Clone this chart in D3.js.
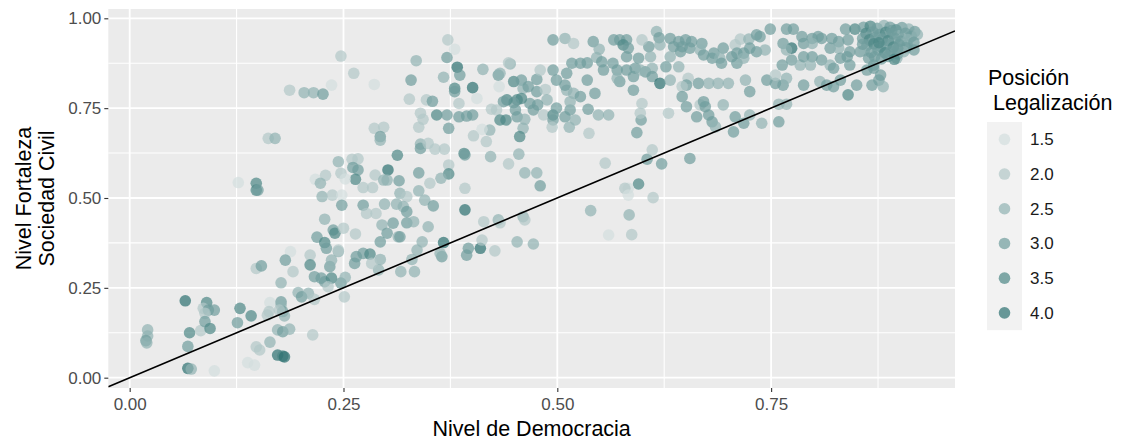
<!DOCTYPE html>
<html>
<head>
<meta charset="utf-8">
<script src="https://cdn.jsdelivr.net/npm/d3@7"></script>
<style>
  body { margin: 0; background: #ffffff; }
  svg { display: block; font-family: "Liberation Sans", Arial, Helvetica, sans-serif; }
</style>
</head>
<body>
<svg id="chart" width="1121" height="441"></svg>
<script>
// Axis ticks and legend breaks
const xTicks = [0, 0.25, 0.5, 0.75];
const yTicks = [0, 0.25, 0.5, 0.75, 1];
const legendBreaks = [1.5, 2, 2.5, 3, 3.5, 4];

// Reference line y = intercept + slope * x
const intercepto = 0;
const pendiente = 1;

// Country-year observations: [democracia, sociedad civil, posición legalización]
const observaciones = [
  [0.021,0.133,2.5],[0.021,0.116,2.5],[0.019,0.103,3],[0.020,0.097,2.5],
  [0.065,0.214,4],[0.090,0.209,3.5],[0.086,0.193,2],[0.092,0.188,3],[0.099,0.188,3],[0.088,0.179,2],
  [0.070,0.125,3.5],[0.083,0.131,2],[0.088,0.156,3],[0.094,0.137,3.5],[0.068,0.087,3],
  [0.068,0.026,4],[0.072,0.024,2.5],[0.099,0.019,1.5],
  [0.129,0.193,3.5],[0.142,0.172,3.5],[0.126,0.153,3],
  [0.164,0.209,1.5],[0.163,0.184,2],[0.161,0.174,2],
  [0.177,0.211,3],[0.177,0.202,2.5],[0.179,0.184,3],[0.181,0.172,2.5],[0.175,0.188,2],
  [0.173,0.133,2.5],[0.179,0.128,3],[0.187,0.135,2.5],[0.214,0.119,2],
  [0.148,0.086,2],[0.152,0.077,2],[0.164,0.099,2.5],[0.138,0.042,1.5],[0.146,0.035,1.5],
  [0.173,0.063,4],[0.179,0.060,3.5],[0.181,0.058,4],
  [0.188,0.351,1.5],[0.191,0.295,2],[0.148,0.304,2],[0.154,0.311,3],[0.182,0.327,3],[0.177,0.264,2.5],
  [0.197,0.237,2.5],[0.201,0.225,3],[0.209,0.235,2.5],[0.216,0.218,2],
  [0.211,0.341,2],[0.211,0.314,3.5],[0.216,0.281,3],[0.224,0.277,3],[0.228,0.267,3],[0.236,0.277,3.5],
  [0.232,0.253,2],[0.247,0.263,3],[0.251,0.225,2],[0.263,0.318,3],[0.265,0.337,3],[0.234,0.309,3],[0.244,0.351,2.5],

  [0.247,0.895,2],[0.262,0.847,2],[0.286,0.816,1.5],[0.236,0.814,1.5],
  [0.187,0.800,2],[0.204,0.793,2.5],[0.215,0.793,2.5],[0.226,0.789,3],
  [0.162,0.666,2],[0.170,0.666,2.5],
  [0.286,0.694,2],[0.297,0.697,2],[0.293,0.671,3],[0.293,0.661,2.5],[0.313,0.619,3.5],
  [0.244,0.601,2.5],[0.260,0.608,2],[0.267,0.609,2],[0.261,0.585,3],[0.267,0.578,3],[0.264,0.552,3.5],
  [0.247,0.569,2],[0.229,0.563,2],[0.217,0.552,1.5],[0.223,0.541,2.5],[0.252,0.553,1.5],
  [0.302,0.578,4],[0.287,0.564,2],[0.297,0.550,2.5],[0.301,0.550,2.5],[0.315,0.548,3],
  [0.273,0.529,2],[0.284,0.529,2],
  [0.127,0.543,1.5],[0.148,0.541,3.5],[0.148,0.522,3.5],[0.150,0.522,3],
  [0.225,0.504,2.5],[0.237,0.508,2],[0.248,0.508,1.5],[0.248,0.480,3],
  [0.273,0.480,3],[0.277,0.457,2],[0.288,0.457,2],[0.298,0.483,2.5],[0.312,0.483,2.5],
  [0.228,0.441,2.5],[0.238,0.411,3],[0.240,0.402,3.5],[0.250,0.416,2],[0.264,0.400,2],[0.219,0.391,3],
  [0.295,0.425,2.5],[0.301,0.402,3],[0.308,0.430,3],[0.314,0.392,2.5],
  [0.228,0.376,3.5],[0.230,0.360,3],[0.244,0.355,2],[0.293,0.378,3],
  [0.273,0.346,3],[0.281,0.344,3.5],[0.293,0.329,2.5],

  [0.365,0.337,3],[0.330,0.329,2.5],[0.317,0.295,2.5],[0.333,0.295,2.5],[0.291,0.300,2.5],[0.283,0.318,2],
  [0.252,0.279,2.5],[0.236,0.327,2.5],

  [0.372,0.940,2],[0.380,0.914,1.5],[0.335,0.882,2.5],[0.371,0.891,3],[0.329,0.828,3],[0.367,0.836,2.5],
  [0.383,0.864,4],[0.386,0.842,3],[0.380,0.805,3.5],[0.380,0.796,3],[0.401,0.807,4],[0.413,0.858,2.5],
  [0.406,0.777,1.5],[0.327,0.775,2],[0.347,0.773,2],[0.354,0.769,3],[0.385,0.763,2],
  [0.340,0.736,2],[0.343,0.719,2],[0.359,0.731,3.5],[0.371,0.731,3],[0.385,0.726,3],[0.394,0.728,3],[0.401,0.731,3],
  [0.373,0.694,3],[0.338,0.697,2],[0.402,0.673,2],[0.417,0.657,2],[0.421,0.689,2.5],[0.412,0.691,1.5],
  [0.340,0.650,2.5],[0.340,0.638,3],[0.349,0.652,2],[0.357,0.636,2],[0.368,0.636,2],
  [0.391,0.624,3.5],[0.392,0.620,3],[0.422,0.615,2.5],[0.455,0.622,2.5],[0.443,0.595,2],
  [0.462,0.570,2.5],[0.476,0.570,2.5],[0.480,0.534,3],
  [0.373,0.592,2],[0.373,0.567,3.5],[0.364,0.555,2.5],[0.351,0.541,2],[0.338,0.570,3],
  [0.316,0.513,2.5],[0.338,0.520,2.5],[0.345,0.494,2.5],[0.355,0.478,3],[0.324,0.504,2],[0.320,0.476,2.5],
  [0.392,0.527,2],[0.392,0.467,4],
  [0.414,0.434,2],[0.431,0.439,2.5],[0.433,0.431,2],[0.460,0.448,2.5],[0.462,0.439,2],
  [0.324,0.462,3],[0.324,0.431,3],[0.332,0.434,2.5],[0.316,0.392,3],
  [0.342,0.378,2.5],[0.367,0.376,4],[0.363,0.346,2.5],[0.336,0.355,2.5],
  [0.396,0.360,3],[0.410,0.360,4],[0.412,0.383,2],[0.427,0.353,2],[0.453,0.378,2.5],[0.472,0.372,2.5],
  [0.394,0.341,3],[0.349,0.420,2.5],

  [0.431,0.842,3],[0.433,0.847,2.5],[0.445,0.873,2.5],[0.443,0.876,2],[0.432,0.810,1.5],
  [0.449,0.824,3.5],[0.458,0.828,3],[0.460,0.805,2.5],[0.466,0.810,3],[0.476,0.830,3],[0.476,0.796,3],
  [0.480,0.856,2],[0.486,0.802,2],[0.488,0.773,2.5],[0.477,0.759,3],[0.468,0.763,3],[0.458,0.777,3.5],
  [0.453,0.773,3.5],[0.449,0.765,3],[0.441,0.773,3.5],[0.437,0.768,3],[0.429,0.745,2],[0.423,0.747,2],
  [0.433,0.717,3.5],[0.440,0.717,3.5],[0.451,0.745,3],[0.453,0.726,3],[0.462,0.719,2.5],[0.460,0.694,2.5],
  [0.456,0.671,3.5],[0.472,0.745,3],[0.484,0.731,2],[0.495,0.731,3.5],[0.499,0.750,3],[0.495,0.717,3],
  [0.509,0.726,3],[0.515,0.745,3],[0.521,0.717,2.5],[0.514,0.697,2.5],[0.494,0.697,2],
  [0.495,0.856,3],[0.499,0.828,3],[0.511,0.847,3],[0.517,0.875,3],[0.527,0.875,3],[0.535,0.876,3],
  [0.546,0.891,2.5],[0.552,0.879,3],[0.554,0.856,3],[0.565,0.875,3],[0.570,0.856,3],[0.535,0.828,3],
  [0.544,0.791,3],[0.519,0.791,2.5],[0.511,0.800,2.5],[0.527,0.782,3],[0.515,0.768,2.5],[0.509,0.814,3],
  [0.495,0.940,3],[0.509,0.944,2.5],[0.519,0.930,2],[0.542,0.935,3],[0.549,0.914,2.5],[0.566,0.940,3],[0.573,0.940,3],
  [0.536,0.747,3],[0.548,0.731,2.5],[0.560,0.731,2.5],[0.537,0.680,2],[0.556,0.597,2],[0.539,0.465,2.5],[0.560,0.397,1.5],

  [0.605,0.608,3],[0.611,0.634,2],[0.622,0.595,3],[0.655,0.610,3],[0.595,0.539,3.5],[0.583,0.527,1.5],
  [0.579,0.527,2],[0.583,0.508,1.5],[0.612,0.501,2],[0.584,0.453,2.5],[0.587,0.398,2],
  [0.593,0.682,3],[0.598,0.717,3],[0.597,0.736,2],[0.599,0.763,2],[0.630,0.736,2],[0.651,0.754,3],
  [0.663,0.726,3],[0.667,0.759,2],[0.677,0.731,3],[0.681,0.712,3],[0.685,0.698,2.5],[0.694,0.759,2.5],
  [0.706,0.684,3],[0.708,0.726,3],[0.718,0.708,3],[0.725,0.731,2.5],[0.739,0.708,2.5],[0.759,0.712,3],
  [0.671,0.768,3],[0.673,0.754,3],[0.759,0.761,2.5],[0.768,0.761,2.5],

  [0.616,0.963,2.5],[0.619,0.946,3],[0.620,0.926,2.5],[0.607,0.921,3],[0.599,0.940,2],[0.581,0.940,3],
  [0.577,0.926,3.5],[0.583,0.917,3],
  [0.632,0.944,3],[0.642,0.935,3],[0.650,0.940,3],[0.657,0.935,3],[0.669,0.930,3],[0.636,0.921,3],
  [0.646,0.921,3],[0.655,0.917,3],[0.667,0.912,2.5],[0.632,0.893,2.5],[0.644,0.907,3],
  [0.714,0.942,2],[0.724,0.942,2.5],[0.708,0.926,2],[0.683,0.903,3],[0.694,0.917,3],[0.710,0.903,3],
  [0.718,0.903,3],[0.671,0.898,3],[0.681,0.889,3],[0.690,0.889,2.5],[0.692,0.875,3],[0.704,0.893,3],
  [0.710,0.875,3],[0.718,0.889,2.5],
  [0.581,0.893,3],[0.595,0.889,3],[0.609,0.893,2.5],[0.581,0.856,3],[0.591,0.861,3],[0.603,0.851,3],
  [0.611,0.861,2.5],[0.627,0.865,3],[0.642,0.865,2.5],[0.589,0.838,3],[0.611,0.838,3],[0.620,0.819,4],
  [0.632,0.828,2.5],[0.653,0.833,2],[0.651,0.814,3],[0.665,0.819,3],[0.677,0.819,2.5],[0.688,0.819,2.5],
  [0.700,0.819,2.5],[0.720,0.828,2.5],[0.725,0.796,3],[0.646,0.810,2],[0.646,0.782,3],[0.589,0.800,3],
  [0.573,0.824,3],[0.570,0.833,2.5],[0.597,0.856,2.5],

  [0.749,0.970,3],[0.768,0.970,3],[0.776,0.970,3],[0.786,0.949,3],[0.798,0.944,3],[0.805,0.949,3],
  [0.809,0.944,3],[0.788,0.930,3],[0.798,0.930,2.5],[0.821,0.944,3],[0.829,0.935,3],[0.819,0.917,3],
  [0.829,0.917,2.5],[0.840,0.940,3],[0.842,0.907,3],[0.854,0.907,3],[0.837,0.970,3],[0.848,0.970,3.5],
  [0.774,0.917,4],[0.764,0.930,3],[0.768,0.912,2.5],[0.733,0.954,3],[0.737,0.949,3],[0.725,0.917,3],
  [0.733,0.907,3],[0.743,0.912,2.5],[0.763,0.870,3],[0.774,0.884,3],[0.784,0.870,2.5],[0.788,0.893,3],
  [0.798,0.893,3],[0.796,0.870,2.5],[0.809,0.884,3],[0.819,0.870,2.5],[0.823,0.861,3],[0.831,0.889,3],
  [0.839,0.893,3],[0.842,0.870,3],[0.745,0.828,3],[0.755,0.819,3],[0.764,0.814,3],[0.768,0.833,2.5],
  [0.788,0.814,3],[0.807,0.824,2.5],[0.815,0.814,3],[0.831,0.828,3],[0.823,0.810,3],[0.850,0.814,3],
  [0.840,0.787,3.5],[0.868,0.814,3],[0.876,0.828,3],[0.878,0.842,3],[0.870,0.861,3],[0.881,0.810,2.5],
  [0.897,0.889,2.5],[0.917,0.912,3],[0.909,0.926,3],[0.755,0.842,2],[0.862,0.856,3],[0.870,0.870,3],

  [0.858,0.975,3],[0.866,0.978,3.5],[0.874,0.972,3],[0.882,0.980,2.5],[0.889,0.975,3],[0.896,0.968,3.5],
  [0.903,0.974,3],[0.911,0.970,2.5],[0.918,0.963,3],[0.861,0.958,3.5],[0.869,0.962,3],[0.877,0.955,3],
  [0.884,0.961,3.5],[0.892,0.957,3],[0.899,0.951,2.5],[0.907,0.958,3],[0.914,0.950,3],[0.921,0.955,2.5],
  [0.857,0.944,3],[0.865,0.940,3.5],[0.872,0.947,3],[0.880,0.942,3],[0.887,0.938,3.5],[0.895,0.944,3],
  [0.902,0.936,3],[0.910,0.941,2.5],[0.917,0.933,3],[0.862,0.925,3],[0.870,0.929,3.5],[0.878,0.921,3],
  [0.885,0.927,3],[0.893,0.920,3.5],[0.900,0.926,3],[0.908,0.918,3],[0.859,0.910,2.5],[0.867,0.905,3],
  [0.875,0.912,3],[0.883,0.904,3.5],[0.890,0.909,3],[0.898,0.901,3],[0.905,0.907,2.5],[0.871,0.893,3],
  [0.879,0.887,3],[0.887,0.894,3],[0.894,0.886,3.5],[0.864,0.889,3],[0.857,0.928,3],[0.891,0.966,3],
  [0.876,0.932,3.5],[0.898,0.915,3]
];

const svg = d3.select("#chart");

// Panel geometry
const panel = { left: 108.3, right: 955, top: 9, bottom: 388 };

const x = d3.scaleLinear().domain([-0.025, 0.965]).range([panel.left, panel.right]);
const y = d3.scaleLinear().domain([-0.0287, 1.0259]).range([panel.bottom, panel.top]);

// Colour gradient for the legalisation position
const color = d3.scaleLinear()
  .domain([1.5, 4])
  .range(["#d3dede", "#2c7170"])
  .interpolate(d3.interpolateRgb)
  .clamp(true);
const pointOpacity = 0.7;
const pointRadius = 5.8;

// Panel background
svg.append("rect")
  .attr("x", panel.left).attr("y", panel.top)
  .attr("width", panel.right - panel.left)
  .attr("height", panel.bottom - panel.top)
  .attr("fill", "#ebebeb");

// Minor grid
const minorX = xTicks.map(d => d + 0.125).filter(d => x(d) < panel.right);
const minorY = yTicks.slice(0, -1).map(d => d + 0.125);
const grid = svg.append("g");
grid.selectAll(".mx").data(minorX).join("line")
  .attr("x1", d => x(d)).attr("x2", d => x(d))
  .attr("y1", panel.top).attr("y2", panel.bottom)
  .attr("stroke", "#ffffff").attr("stroke-width", 1.1);
grid.selectAll(".my").data(minorY).join("line")
  .attr("y1", d => y(d)).attr("y2", d => y(d))
  .attr("x1", panel.left).attr("x2", panel.right)
  .attr("stroke", "#ffffff").attr("stroke-width", 1.1);
// Major grid
grid.selectAll(".Mx").data(xTicks).join("line")
  .attr("x1", d => x(d)).attr("x2", d => x(d))
  .attr("y1", panel.top).attr("y2", panel.bottom)
  .attr("stroke", "#ffffff").attr("stroke-width", 1.8);
grid.selectAll(".My").data(yTicks).join("line")
  .attr("y1", d => y(d)).attr("y2", d => y(d))
  .attr("x1", panel.left).attr("x2", panel.right)
  .attr("stroke", "#ffffff").attr("stroke-width", 1.8);

// Clip to the panel
svg.append("clipPath").attr("id", "panel-clip")
  .append("rect")
  .attr("x", panel.left).attr("y", panel.top)
  .attr("width", panel.right - panel.left)
  .attr("height", panel.bottom - panel.top);

// Points
svg.append("g")
  .selectAll("circle")
  .data(observaciones)
  .join("circle")
  .attr("cx", d => x(d[0]))
  .attr("cy", d => y(d[1]))
  .attr("r", pointRadius)
  .attr("fill", d => color(d[2]))
  .attr("fill-opacity", pointOpacity);

// Reference line
const [x0, x1] = x.domain();
svg.append("line")
  .attr("clip-path", "url(#panel-clip)")
  .attr("x1", x(x0)).attr("y1", y(intercepto + pendiente * x0))
  .attr("x2", x(x1)).attr("y2", y(intercepto + pendiente * x1))
  .attr("stroke", "#000000").attr("stroke-width", 1.6);

// Axes
const fmt = d3.format(".2f");
const xAxis = svg.append("g")
  .attr("transform", `translate(0,${panel.bottom})`)
  .call(d3.axisBottom(x).tickValues(xTicks).tickFormat(fmt).tickSize(4).tickPadding(3));
const yAxis = svg.append("g")
  .attr("transform", `translate(${panel.left},0)`)
  .call(d3.axisLeft(y).tickValues(yTicks).tickFormat(fmt).tickSize(4).tickPadding(3));
[xAxis, yAxis].forEach(g => {
  g.select(".domain").remove();
  g.selectAll(".tick line").attr("stroke", "#333333").attr("stroke-width", 1.1);
  g.selectAll(".tick text")
    .attr("fill", "#4d4d4d")
    .style("font-size", "17px")
    .style("font-family", "'Liberation Sans', Arial, Helvetica, sans-serif");
});
xAxis.selectAll(".tick text").attr("dy", "0.9em");

// Axis titles
svg.append("text")
  .attr("x", (panel.left + panel.right) / 2)
  .attr("y", 436)
  .attr("text-anchor", "middle")
  .style("font-size", "21.5px")
  .attr("fill", "#000000")
  .text("Nivel de Democracia");

const yTitle = svg.append("text")
  .attr("transform", `translate(31,${(panel.top + panel.bottom) / 2}) rotate(-90)`)
  .attr("text-anchor", "middle")
  .style("font-size", "21.5px")
  .attr("fill", "#000000");
yTitle.append("tspan").attr("x", 0).attr("y", 0).text("Nivel Fortaleza");
yTitle.append("tspan").attr("x", 0).attr("y", 22.5).text("Sociedad Civil");

// Legend
const legend = svg.append("g");
legend.append("text")
  .attr("x", 988).attr("y", 85)
  .style("font-size", "21.5px")
  .attr("fill", "#000000")
  .text("Posición");
legend.append("text")
  .attr("x", 993).attr("y", 110)
  .style("font-size", "21.5px")
  .attr("fill", "#000000")
  .text("Legalización");

const keySize = 34.7;
const keyTop = 122;
legend.append("rect")
  .attr("x", 987).attr("y", keyTop)
  .attr("width", 35).attr("height", keySize * legendBreaks.length)
  .attr("fill", "#f2f2f2");

const keys = legend.selectAll(".key").data(legendBreaks).join("g")
  .attr("transform", (d, i) => `translate(0,${keyTop + keySize * i + keySize / 2})`);
keys.append("circle")
  .attr("cx", 1004.5).attr("cy", 0)
  .attr("r", pointRadius)
  .attr("fill", d => color(d))
  .attr("fill-opacity", pointOpacity);
keys.append("text")
  .attr("x", 1030).attr("y", 0).attr("dy", "0.35em")
  .style("font-size", "17px")
  .attr("fill", "#1a1a1a")
  .text(d => d3.format(".1f")(d));
</script>
</body>
</html>
